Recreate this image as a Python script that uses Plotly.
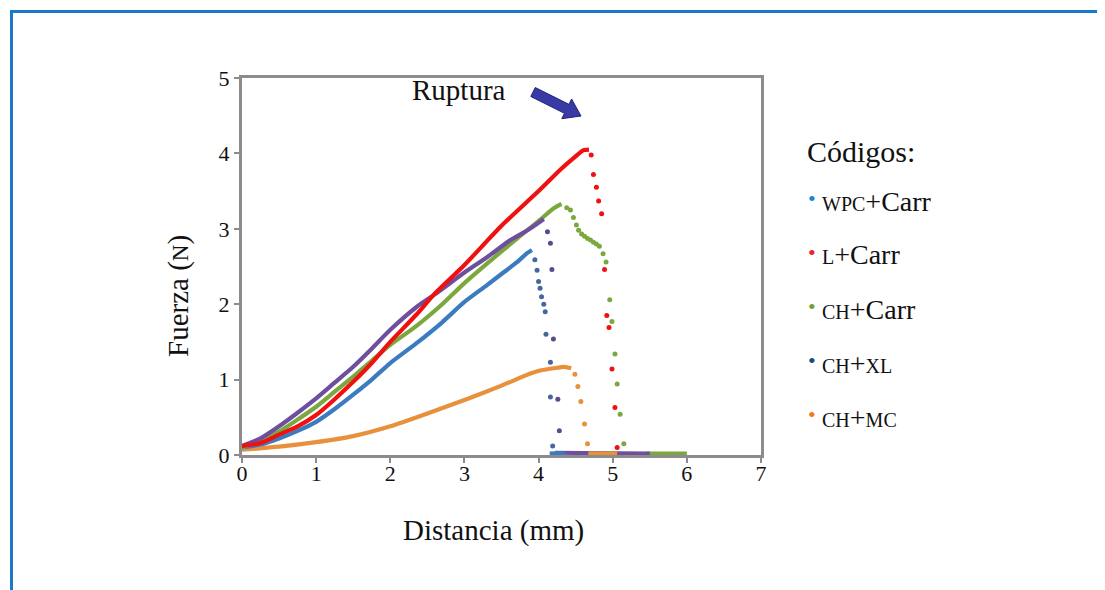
import math
import plotly.graph_objects as go

# ---------------- data ----------------
# WPC+Carr (blue)
blue_rise_x = [0.0, 0.25, 0.5, 0.75, 1.0, 1.25, 1.5, 1.75, 2.0, 2.35, 2.7, 3.0, 3.3, 3.5, 3.7, 3.85, 3.91]
blue_rise_y = [0.10, 0.14, 0.22, 0.32, 0.44, 0.61, 0.80, 1.00, 1.22, 1.48, 1.76, 2.03, 2.25, 2.40, 2.55, 2.68, 2.72]
blue_drop_x = [3.95, 3.98, 4.00, 4.02, 4.04, 4.07, 4.09, 4.10, 4.16, 4.16, 4.19]
blue_drop_y = [2.59, 2.45, 2.30, 2.21, 2.10, 2.00, 1.90, 1.60, 1.23, 0.77, 0.12]
blue_tail_x = [4.15, 4.35]
blue_tail_y = [0.02, 0.02]

# L+Carr (red)
red_rise_x = [0.0, 0.25, 0.5, 0.75, 1.0, 1.25, 1.5, 1.75, 2.0, 2.35, 2.6, 3.0, 3.5, 4.0, 4.3, 4.5, 4.6, 4.68]
red_rise_y = [0.12, 0.16, 0.27, 0.38, 0.53, 0.74, 0.97, 1.22, 1.50, 1.86, 2.14, 2.52, 3.04, 3.50, 3.79, 3.96, 4.04, 4.05]
red_drop_x = [4.71, 4.74, 4.78, 4.81, 4.85, 4.89, 4.92, 4.95, 4.99, 5.03, 5.06]
red_drop_y = [3.98, 3.72, 3.55, 3.37, 3.20, 2.46, 1.85, 1.69, 1.14, 0.63, 0.10]

# CH+Carr (green)
green_rise_x = [0.0, 0.25, 0.5, 0.75, 1.0, 1.25, 1.5, 1.75, 2.0, 2.35, 2.7, 3.0, 3.5, 4.02, 4.2, 4.31]
green_rise_y = [0.10, 0.19, 0.31, 0.47, 0.64, 0.84, 1.04, 1.25, 1.46, 1.71, 2.00, 2.28, 2.70, 3.12, 3.27, 3.33]
green_drop_x = [4.38, 4.43, 4.47, 4.51, 4.54, 4.58, 4.62, 4.66, 4.70, 4.74, 4.78, 4.82,
                4.87, 4.91, 4.96, 4.99, 5.03, 5.06, 5.10, 5.15]
green_drop_y = [3.28, 3.25, 3.15, 3.05, 2.98, 2.93, 2.90, 2.87, 2.85, 2.82, 2.80, 2.77,
                2.67, 2.56, 2.06, 1.77, 1.34, 0.94, 0.54, 0.15]
green_tail_x = [5.45, 6.0]
green_tail_y = [0.02, 0.02]

# CH+XL (purple in the plot)
purple_rise_x = [0.0, 0.25, 0.5, 0.75, 1.0, 1.25, 1.5, 1.75, 2.0, 2.35, 2.6, 3.0, 3.3, 3.62, 3.85, 4.0, 4.07]
purple_rise_y = [0.12, 0.22, 0.38, 0.56, 0.75, 0.96, 1.17, 1.41, 1.66, 1.96, 2.13, 2.42, 2.62, 2.85, 2.98, 3.08, 3.13]
purple_drop_x = [4.12, 4.16, 4.18, 4.20, 4.26, 4.28]
purple_drop_y = [2.96, 2.81, 2.46, 1.54, 0.74, 0.32]
purple_tail_x = [4.22, 5.5]
purple_tail_y = [0.03, 0.02]

# CH+MC (orange)
orange_rise_x = [0.0, 0.5, 1.0, 1.5, 2.0, 2.5, 3.0, 3.5, 3.89, 4.02, 4.2, 4.35, 4.44]
orange_rise_y = [0.07, 0.11, 0.17, 0.25, 0.38, 0.55, 0.73, 0.92, 1.08, 1.12, 1.15, 1.17, 1.15]
orange_drop_x = [4.49, 4.53, 4.57, 4.62, 4.66]
orange_drop_y = [1.07, 0.91, 0.71, 0.41, 0.15]
orange_tail_x = [4.67, 5.06]
orange_tail_y = [0.02, 0.02]

x_ticks = [0, 1, 2, 3, 4, 5, 6, 7]
y_ticks = [0, 1, 2, 3, 4, 5]

SC = "<span style='font-size:20px'>{}</span>"  # small-capitals imitation
legend_labels = [SC.format("WPC") + "+Carr",
                 SC.format("L") + "+Carr",
                 SC.format("CH") + "+Carr",
                 SC.format("CH") + "+" + SC.format("XL"),
                 SC.format("CH") + "+" + SC.format("MC")]
legend_colors = ["#1a86d2", "#e8262c", "#76a035", "#1d4a86", "#ef7a1a"]

# ---------------- styles ----------------
C_BLUE = "#3b7cc0"
C_BLUE_DROP = "#45679f"
C_RED = "#f01010"
C_GREEN = "#7ba83e"
C_PURPLE = "#6d4f9e"
C_PURPLE_DROP = "#5d4a8e"
C_ORANGE = "#e8913c"
FONT = "Liberation Serif"
LW = 4.2
MS = 5

fig = go.Figure()


def add_line(x, y, color, width=LW):
    fig.add_trace(go.Scatter(x=x, y=y, mode="lines",
                             line=dict(color=color, width=width, shape="spline", smoothing=0.6),
                             showlegend=False, hoverinfo="skip"))


def add_dots(x, y, color):
    fig.add_trace(go.Scatter(x=x, y=y, mode="markers", marker=dict(color=color, size=MS),
                             showlegend=False, hoverinfo="skip"))


# tails on the baseline
add_line(green_tail_x, green_tail_y, C_GREEN)
add_line(purple_tail_x, purple_tail_y, C_PURPLE)
add_line(blue_tail_x, blue_tail_y, C_BLUE)
add_line(orange_tail_x, orange_tail_y, C_ORANGE)

# rising curves
add_line(orange_rise_x, orange_rise_y, C_ORANGE)
add_line(blue_rise_x, blue_rise_y, C_BLUE)
add_line(green_rise_x, green_rise_y, C_GREEN)
add_line(purple_rise_x, purple_rise_y, C_PURPLE)
add_line(red_rise_x, red_rise_y, C_RED)

# rupture dots
add_dots(orange_drop_x, orange_drop_y, C_ORANGE)
add_dots(blue_drop_x, blue_drop_y, C_BLUE_DROP)
add_dots(purple_drop_x, purple_drop_y, C_PURPLE_DROP)
add_dots(green_drop_x, green_drop_y, C_GREEN)
add_dots(red_drop_x, red_drop_y, C_RED)

# ---------------- layout geometry (target-screen pixels) ----------------
OFF = 8                      # page body margin of the browser
W, H = 1105 - OFF, 590 - OFF
PL, PR, PT, PB = 242, 761, 78, 455   # plot area on screen


def px(xp):
    return (xp - PL) / (PR - PL)


def py(yp):
    return (PB - yp) / (PB - PT)


annotations = []
annotations.append(dict(x=px(493), y=py(530), xref="paper", yref="paper", text="Distancia (mm)",
                        showarrow=False, font=dict(family=FONT, size=29, color="#111"),
                        xanchor="center", yanchor="middle"))
annotations.append(dict(x=px(178), y=py(296), xref="paper", yref="paper",
                        text="Fuerza (<span style='font-size:23px'>N</span>)", textangle=-90,
                        showarrow=False, font=dict(family=FONT, size=29, color="#111"),
                        xanchor="center", yanchor="middle"))
annotations.append(dict(x=px(459), y=py(90), xref="paper", yref="paper", text="Ruptura",
                        showarrow=False, font=dict(family=FONT, size=29, color="#111"),
                        xanchor="center", yanchor="middle"))
annotations.append(dict(x=px(805), y=py(151), xref="paper", yref="paper", text="Códigos:",
                        showarrow=False, font=dict(family=FONT, size=30, color="#111"),
                        xanchor="left", yanchor="middle"))
for i, (lab, col) in enumerate(zip(legend_labels, legend_colors)):
    yc = 201 + 54 * i
    annotations.append(dict(x=px(806), y=py(yc - 3), xref="paper", yref="paper", text="•",
                            showarrow=False, font=dict(family=FONT, size=22, color=col),
                            xanchor="left", yanchor="middle"))
    annotations.append(dict(x=px(820), y=py(yc), xref="paper", yref="paper", text=lab,
                            showarrow=False, font=dict(family=FONT, size=28, color="#111"),
                            xanchor="left", yanchor="middle"))

# block arrow (decoration), pixel geometry
tx, ty, hx, hy = 533, 92, 581, 116
L = math.hypot(hx - tx, hy - ty)
ux, uy = (hx - tx) / L, (hy - ty) / L
nx, ny = -uy, ux
sw, hw, hl = 5, 11, 16
sx, sy = hx - hl * ux, hy - hl * uy
pts = [(tx + sw * nx, ty + sw * ny), (sx + sw * nx, sy + sw * ny), (sx + hw * nx, sy + hw * ny),
       (hx, hy), (sx - hw * nx, sy - hw * ny), (sx - sw * nx, sy - sw * ny), (tx - sw * nx, ty - sw * ny)]
path = "M " + " L ".join(f"{px(a):.5f},{py(b):.5f}" for a, b in pts) + " Z"

shapes = [
    dict(type="path", xref="paper", yref="paper", path=path, fillcolor="#3a3aa6",
         line=dict(color="#22227a", width=1)),
    dict(type="path", xref="paper", yref="paper",
         path=f"M {px(11.5)},{py(600)} L {px(11.5)},{py(11.5)} L {px(1110)},{py(11.5)}",
         line=dict(color="#1a78c8", width=3)),
]

axis_common = dict(showline=True, linewidth=3, linecolor="#8c8c8c", mirror=True,
                   ticks="outside", ticklen=5, tickwidth=1.5, tickcolor="#8c8c8c",
                   showgrid=False, zeroline=False,
                   tickfont=dict(family=FONT, size=22, color="#111"))

fig.update_layout(
    width=W, height=H,
    margin=dict(l=PL - OFF, r=W - (PR - OFF), t=PT - OFF, b=H - (PB - OFF)),
    paper_bgcolor="white", plot_bgcolor="white",
    xaxis=dict(range=[0, 7], tickvals=x_ticks, ticklabelstandoff=-8, **axis_common),
    yaxis=dict(range=[0, 5], tickvals=y_ticks, **axis_common),
    annotations=annotations,
    shapes=shapes,
    showlegend=False,
)

fig.write_html("out.html")
